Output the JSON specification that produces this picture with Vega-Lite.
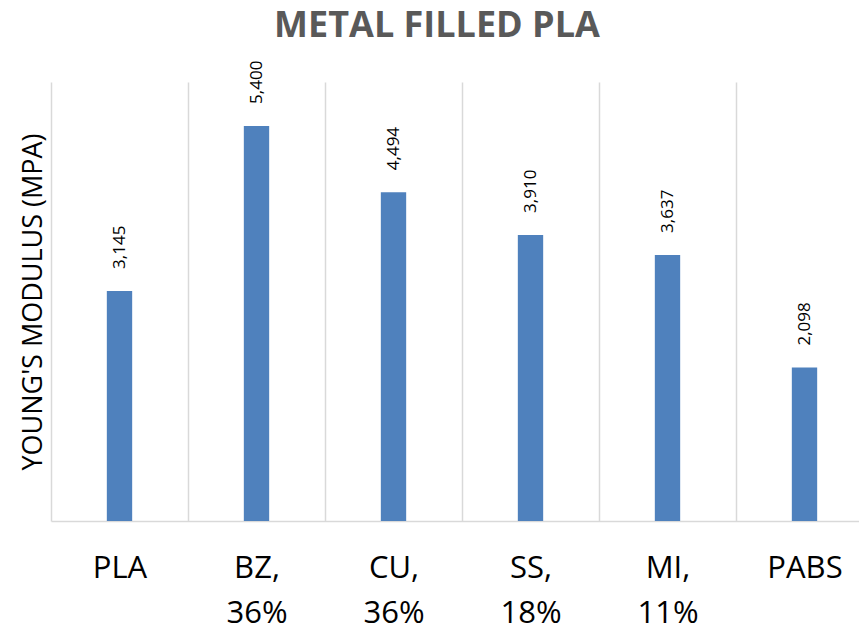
{
  "$schema": "https://vega.github.io/schema/vega-lite/v6.json",
  "autosize": {"type": "none"},
  "width": 808,
  "height": 439,
  "padding": {"left": 51, "top": 82, "right": 0, "bottom": 110},
  "background": "white",
  "title": {
    "text": "METAL FILLED PLA",
    "fontSize": 36,
    "fontWeight": "bold",
    "font": "Open Sans",
    "color": "#595959",
    "anchor": "middle",
    "dx": -18,
    "offset": 16
  },
  "config": {
    "view": {"stroke": null},
    "font": "Open Sans"
  },
  "data": {
    "values": [
      {"material": "PLA", "modulus": 3145},
      {"material": "BZ, 36%", "modulus": 5400},
      {"material": "CU, 36%", "modulus": 4494},
      {"material": "SS, 18%", "modulus": 3910},
      {"material": "MI, 11%", "modulus": 3637},
      {"material": "PABS", "modulus": 2098}
    ]
  },
  "encoding": {
    "x": {
      "field": "material",
      "type": "nominal",
      "sort": null,
      "scale": {"range": [0, 822], "paddingInner": 0, "paddingOuter": 0},
      "axis": {
        "title": null,
        "labelAngle": 0,
        "labelFontSize": 31,
        "labelColor": "#000000",
        "labelPadding": 32,
        "labelBaseline": "top",
        "labelLineHeight": 45,
        "labelExpr": "split(datum.label, ' ')",
        "ticks": false,
        "tickBand": "extent",
        "grid": true,
        "gridColor": "#D9D9D9",
        "gridWidth": 1.5,
        "domainColor": "#D9D9D9",
        "domainWidth": 1.5
      }
    },
    "y": {
      "field": "modulus",
      "type": "quantitative",
      "scale": {"domain": [0, 6000]},
      "axis": {
        "title": "YOUNG'S MODULUS (MPA)",
        "titleFontSize": 27,
        "titleFontWeight": "normal",
        "titleColor": "#000000",
        "titlePadding": 4,
        "labels": false,
        "ticks": false,
        "domain": false,
        "grid": false
      }
    }
  },
  "layer": [
    {"mark": {"type": "bar", "color": "#4F81BD", "width": {"band": 0.185}}},
    {
      "mark": {
        "type": "text",
        "angle": 270,
        "align": "left",
        "baseline": "middle",
        "dx": 22,
        "fontSize": 17,
        "color": "#000000"
      },
      "encoding": {
        "text": {"field": "modulus", "type": "quantitative", "format": ","}
      }
    }
  ]
}
